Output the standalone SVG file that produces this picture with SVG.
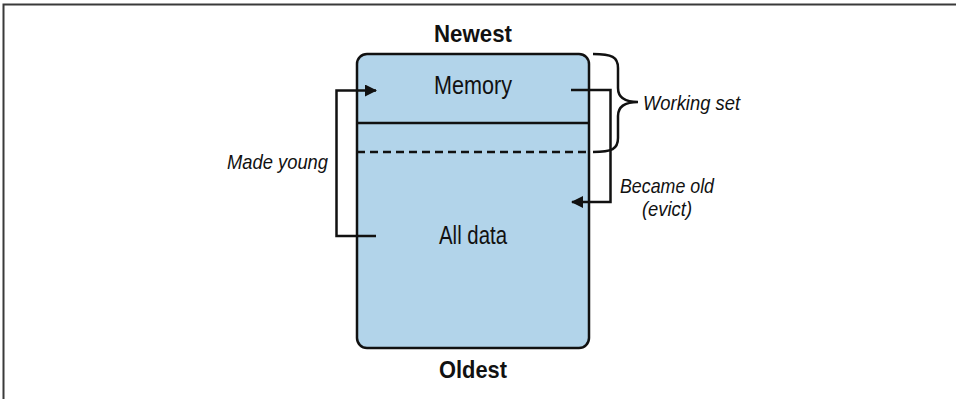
<svg xmlns="http://www.w3.org/2000/svg" width="956" height="399" viewBox="0 0 956 399">
<style>
.t{font-family:"Liberation Sans",Arial,sans-serif;fill:#111;}
.lbl{font-size:25px;}
.hd{font-size:24px;font-weight:bold;}
.it{font-size:21px;font-style:italic;}
.ln{fill:none;stroke:#111;stroke-width:2.5;}
</style>
<defs>
<marker id="ah" markerWidth="12" markerHeight="12" refX="11" refY="6" orient="auto" markerUnits="userSpaceOnUse">
<path d="M0,0 L12,6 L0,12 Z" fill="#111"/>
</marker>
</defs>
<rect x="0" y="0" width="956" height="399" fill="#fff"/>
<path d="M3.5,399 L3.5,4.5 L956,4.5" fill="none" stroke="#3a3a3a" stroke-width="2"/>
<g id="box">
<rect x="357" y="54" width="232" height="294" rx="10" fill="#b2d4ea" stroke="#111" stroke-width="2.5"/>
<line x1="357" y1="123" x2="589" y2="123" class="ln"/>
<line x1="357" y1="152" x2="589" y2="152" class="ln" stroke-dasharray="8,5"/>
</g>
<g id="memory"><text class="t lbl" x="434" y="94" textLength="78" lengthAdjust="spacingAndGlyphs">Memory</text></g>
<g id="alldata"><text class="t lbl" x="439" y="244" textLength="68" lengthAdjust="spacingAndGlyphs">All data</text></g>
<g id="newest"><text class="t hd" x="434" y="42" textLength="78" lengthAdjust="spacingAndGlyphs">Newest</text></g>
<g id="oldest"><text class="t hd" x="439" y="378" textLength="68" lengthAdjust="spacingAndGlyphs">Oldest</text></g>
<g id="workingset">
<path class="ln" d="M593,54 C612,54 618,57 618,68 L618,88 C618,97 624,102 638,102 C624,102 618,107 618,116 L618,138 C618,149 612,152 593,152"/>
<text class="t it" x="643" y="110" textLength="97" lengthAdjust="spacingAndGlyphs">Working set</text>
</g>
<g id="madeyoung"><text class="t it" x="227" y="169" textLength="101" lengthAdjust="spacingAndGlyphs">Made young</text></g>
<g id="becameold">
<text class="t it" x="620" y="193" textLength="94" lengthAdjust="spacingAndGlyphs">Became old</text>
<text class="t it" x="642" y="216" textLength="50" lengthAdjust="spacingAndGlyphs">(evict)</text>
</g>
<g id="connectors">
<path class="ln" d="M376,236 L336.5,236 L336.5,90.5 L376,90.5" marker-end="url(#ah)"/>
<path class="ln" d="M571,90 L610.5,90 L610.5,202 L572,202" marker-end="url(#ah)"/>
</g>
</svg>
